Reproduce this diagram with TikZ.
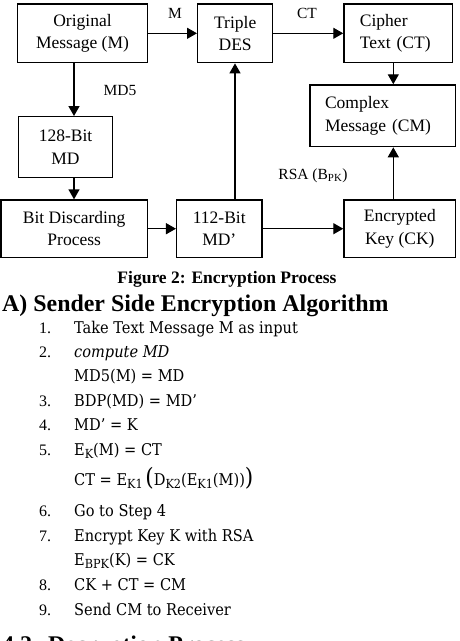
\documentclass[tikz,border=0pt]{standalone}
\usepackage{fontspec}
\setmainfont{Liberation Serif}
\newfontfamily\cam{DejaVu Serif Condensed}
\usetikzlibrary{arrows.meta}
\newcommand\sbs[1]{\raisebox{-3.5pt}{\fontsize{12.5}{12}\selectfont #1}}
\tikzset{
  box/.style={draw, line width=1.4pt, inner sep=0pt, align=center,
    font=\fontsize{17.5}{22.5}\selectfont},
  arr/.style={line width=1.4pt, -{Triangle[length=10pt,width=11pt]}},
  lbl/.style={inner sep=0pt, font=\fontsize{15.5}{18}\selectfont},
  num/.style={anchor=base west, inner sep=0pt, font=\fontsize{16}{18}\selectfont},
  itm/.style={anchor=base west, inner sep=0pt, font=\cam\fontsize{16.2}{18}\selectfont},
  hdg/.style={anchor=base west, inner sep=0pt, font=\bfseries\fontsize{23.9}{26}\selectfont},
}
\begin{document}
\begin{tikzpicture}[x=1pt,y=-1pt]
\clip (0,0) rectangle (459,641);
\fill[white] (0,0) rectangle (459,641);

% boxes
\node[box, minimum width=129.6pt, minimum height=58.7pt] (orig) at (82.5,33.3) {Original\\Message (M)};
\node[box, minimum width=75pt, minimum height=58.7pt] (tdes) at (235.2,33.3) {Triple\\DES};
\node[box, minimum width=108.7pt, minimum height=58.7pt, text width=76.7pt, align=left] (ciph) at (398.3,33.3) {Cipher\\Text (CT)};
\node[box, minimum width=145.7pt, minimum height=61.7pt, text width=115.6pt, align=left] (cplx) at (382.8,115.8) {Complex\\Message (CM)};
\node[box, minimum width=94.4pt, minimum height=61pt] (mdA) at (65.5,147.2) {128-Bit\\MD};
\node[box, minimum width=146.5pt, minimum height=57.3pt] (bdp) at (74.2,228.7) {Bit Discarding\\Process};
\node[box, minimum width=85.3pt, minimum height=57.3pt] (mdB) at (219.3,228.7) {112-Bit\\MD’};
\node[box, minimum width=111.7pt, minimum height=57.3pt] (ck) at (399.8,228.7) {Encrypted\\Key (CK)};

% arrow columns
\coordinate (xa) at (74,0);
\coordinate (xb) at (235,0);
\coordinate (xc) at (393.3,0);

\draw[arr] (orig.east) -- (tdes.west);
\draw[arr] (tdes.east) -- (ciph.west);
\draw[arr] (orig.south -| xa) -- (mdA.north -| xa);
\draw[arr] (mdA.south -| xa) -- (bdp.north -| xa);
\draw[arr] (bdp.east) -- (mdB.west);
\draw[arr] (mdB.north -| xb) -- (tdes.south -| xb);
\draw[arr] (mdB.east) -- (ck.west);
\draw[arr] (ciph.south -| xc) -- (cplx.north -| xc);
\draw[arr] (ck.north -| xc) -- (cplx.south -| xc);

% labels
\node[lbl] (lm) at (175,13.5) {M};
\node[lbl] (lct) at (307,13.5) {CT};
\node[lbl] (lmd5) at (120,90) {MD5};
\node[lbl] (lrsa) at (313,176) {RSA (B\textsubscript{PK})};

% caption
\node[inner sep=0pt, font=\bfseries\fontsize{17.5}{20}\selectfont] (cap) at (227,279) {Figure 2: Encryption Process};

% heading
\node[hdg] (h1) at (2,311) {A) Sender Side Encryption Algorithm};

% list
\node[num] (n1) at (39,333.3) {1.};
\node[itm] (t1) at (74,333.3) {Take Text Message M as input};
\node[num] (n2) at (39,357.3) {2.};
\node[itm] (t2) at (74,357.3) {\itshape compute MD};
\node[itm] (t2b) at (74,381.7) {MD5(M) = MD};
\node[num] (n3) at (39,406.7) {3.};
\node[itm] (t3) at (74,406.7) {BDP(MD) = MD’};
\node[num] (n4) at (39,430.7) {4.};
\node[itm] (t4) at (74,430.7) {MD’ = K};
\node[num] (n5) at (39,455) {5.};
\node[itm] (t5) at (74,455) {E\sbs{K}(M) = CT};
\node[itm] (t5b) at (74,485) {CT = E\sbs{K1}\,{\fontsize{24}{24}\selectfont(}D\sbs{K2}(E\sbs{K1}(M)){\fontsize{24}{24}\selectfont)}};
\node[num] (n6) at (39,516.7) {6.};
\node[itm] (t6) at (74,516.7) {Go to Step 4};
\node[num] (n7) at (39,541.7) {7.};
\node[itm] (t7) at (74,541.7) {Encrypt Key K with RSA};
\node[itm] (t7b) at (74,565) {E\sbs{BPK}(K) = CK};
\node[num] (n8) at (39,590) {8.};
\node[itm] (t8) at (74,590) {CK + CT = CM};
\node[num] (n9) at (39,615) {9.};
\node[itm] (t9) at (74,615) {Send CM to Receiver};

% next heading (cut off)
\node[hdg] (h2a) at (2,652) {4.2.};
\node[hdg] (h2b) at (48,652) {Decryption Process};
\end{tikzpicture}
\end{document}
